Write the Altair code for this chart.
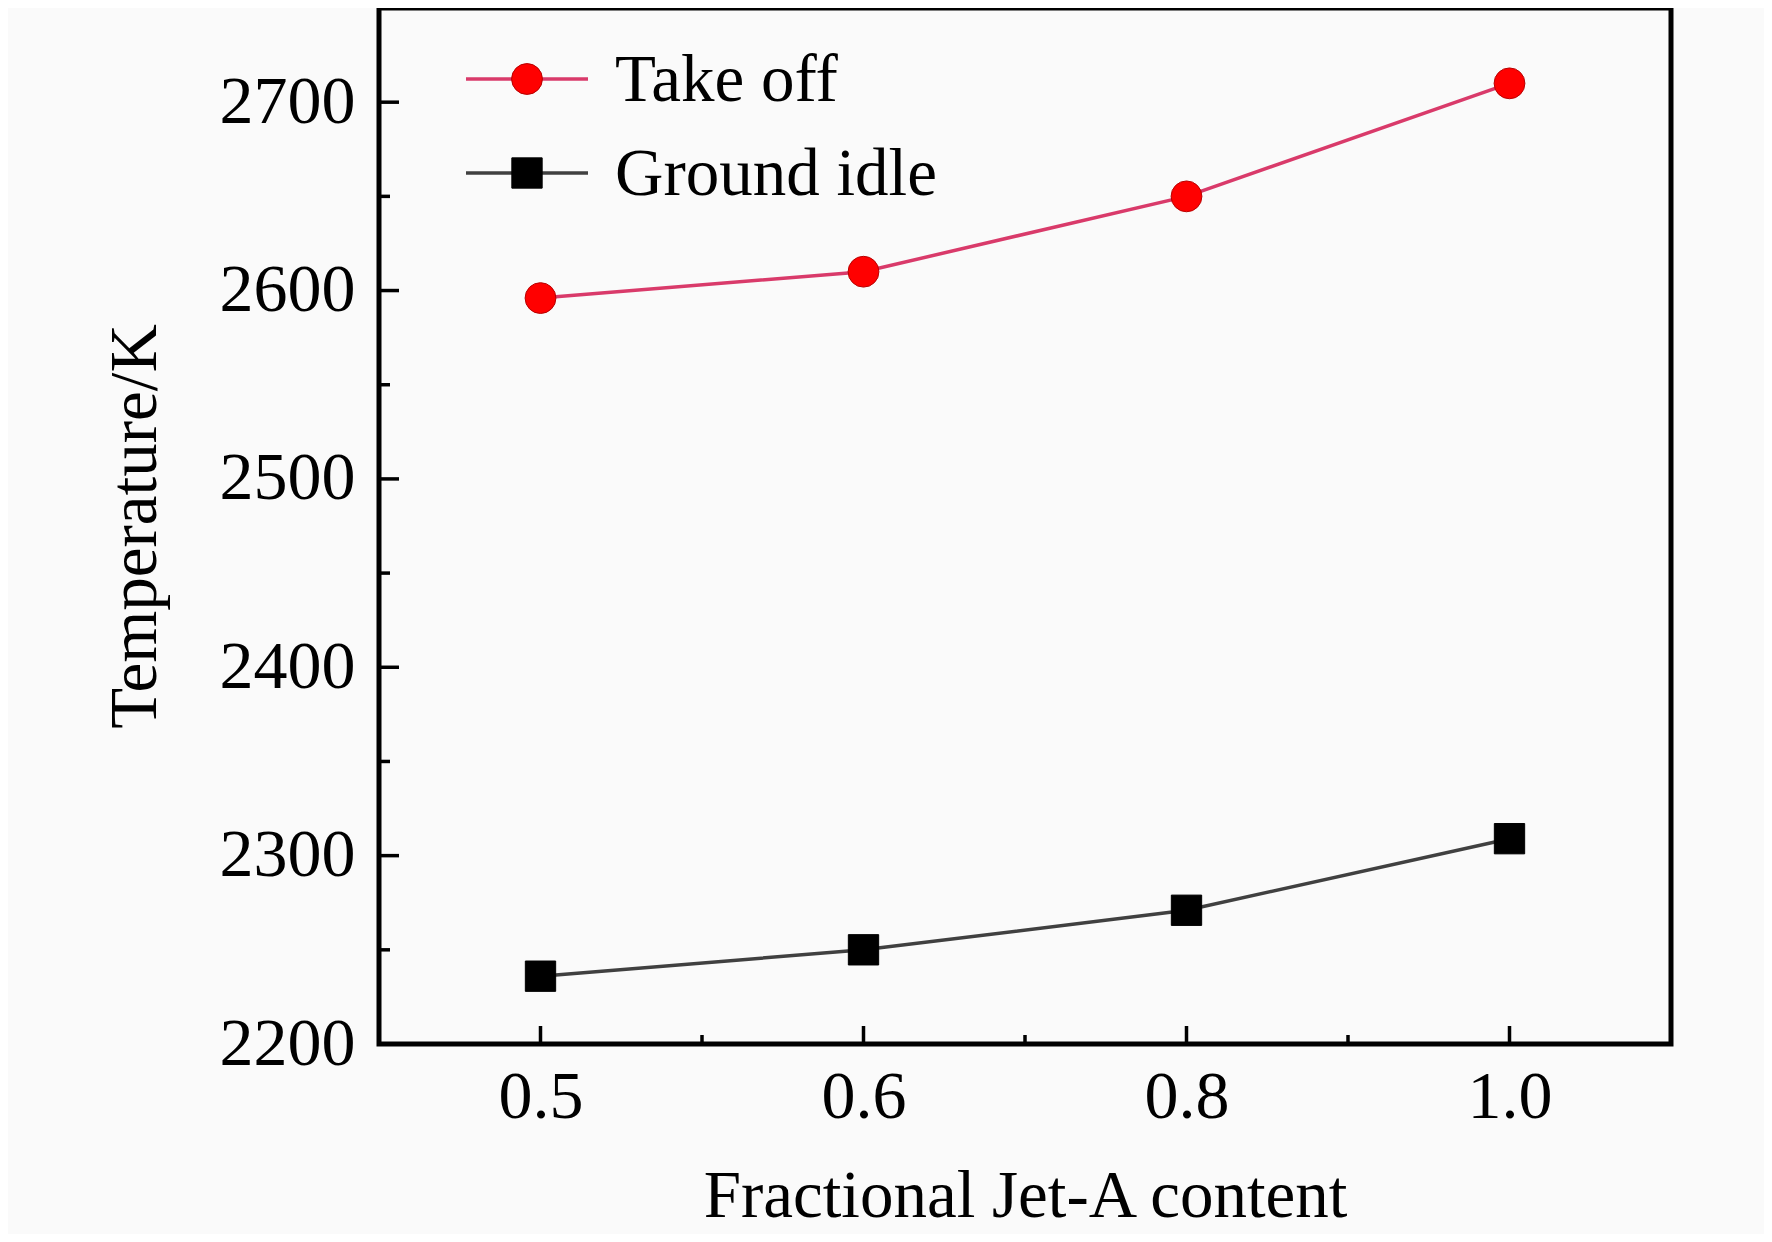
import altair as alt
import pandas as pd

# ---- data ----
x_labels = ["0.5", "0.6", "0.8", "1.0"]
x_index = [0, 1, 2, 3]
takeoff = [2596, 2610, 2650, 2710]
ground_idle = [2236, 2250, 2271, 2309]
series_names = ["Take off", "Ground idle"]

y_major = [2200, 2300, 2400, 2500, 2600, 2700]
y_minor = [2250, 2350, 2450, 2550, 2650]
x_major = [0, 1, 2, 3]
x_minor = [0.5, 1.5, 2.5]

W, H = 1292, 1036
FONT = "Liberation Serif"

df_take = pd.DataFrame({"idx": x_index, "value": takeoff})
df_ground = pd.DataFrame({"idx": x_index, "value": ground_idle})

xscale = alt.Scale(domain=[-0.5, 3.5], nice=False, zero=False)
yscale = alt.Scale(domain=[2200, 2750], nice=False, zero=False)

label_expr = "[" + ",".join("'" + s + "'" for s in x_labels) + "][datum.value]"

xaxis = alt.Axis(
    values=x_major, labelExpr=label_expr, ticks=False, domain=False, grid=False,
    labelFontSize=68, labelPadding=19, labelColor="black", labelFont=FONT,
    labelOverlap=False, labelFlush=False,
    title="Fractional Jet-A content", titleFontSize=67, titleFont=FONT,
    titleFontWeight="normal", titleColor="black", titlePadding=32,
)
yaxis = alt.Axis(
    values=y_major, format="d", ticks=False, domain=False, grid=False,
    labelFontSize=68, labelPadding=24, labelColor="black", labelFont=FONT,
    labelOverlap=False, labelFlush=False,
    title="Temperature/K", titleFontSize=67, titleFont=FONT,
    titleFontWeight="normal", titleColor="black", titlePadding=50,
)

X = alt.X("idx:Q", scale=xscale, axis=xaxis)
Y = alt.Y("value:Q", scale=yscale, axis=yaxis)

take_line = alt.Chart(df_take).mark_line(
    color="#d93a6a", strokeWidth=3.5).encode(x=X, y=Y)
take_pts = alt.Chart(df_take).mark_point(
    shape="circle", filled=True, fill="#ff0000", stroke="#b80000", strokeWidth=1,
    size=950, opacity=1).encode(x=X, y=Y)
ground_line = alt.Chart(df_ground).mark_line(
    color="#404040", strokeWidth=3.5).encode(x=X, y=Y)
ground_pts = alt.Chart(df_ground).mark_point(
    shape="square", filled=True, fill="#000000", stroke="#000000", strokeWidth=1,
    size=920, opacity=1).encode(x=X, y=Y)

# ---- inward ticks ----
ymaj = alt.Chart(pd.DataFrame({"value": y_major})).mark_rule(color="black", strokeWidth=3.5).encode(
    y=Y, x=alt.value(0), x2=alt.value(20))
ymin = alt.Chart(pd.DataFrame({"value": y_minor})).mark_rule(color="black", strokeWidth=3.5).encode(
    y=Y, x=alt.value(0), x2=alt.value(11))
xmaj = alt.Chart(pd.DataFrame({"idx": x_major})).mark_rule(color="black", strokeWidth=3.5).encode(
    x=X, y=alt.value(H), y2=alt.value(H - 18))
xmin = alt.Chart(pd.DataFrame({"idx": x_minor})).mark_rule(color="black", strokeWidth=3.5).encode(
    x=X, y=alt.value(H), y2=alt.value(H - 9))

# ---- legend (inside, top-left) ----
leg_df = pd.DataFrame({"name": series_names})
def legend_item(name, ly, line_color, shape, fill, stroke, size):
    d = leg_df[leg_df["name"] == name]
    base = alt.Chart(d)
    ln = base.mark_rule(color=line_color, strokeWidth=3.5).encode(
        x=alt.value(87), x2=alt.value(209), y=alt.value(ly))
    pt = base.mark_point(shape=shape, filled=True, fill=fill, stroke=stroke,
                         strokeWidth=1, size=size, opacity=1).encode(
        x=alt.value(148), y=alt.value(ly))
    tx = base.mark_text(align="left", baseline="middle", font=FONT, fontSize=67,
                        color="black").encode(
        x=alt.value(236), y=alt.value(ly + 2), text="name:N")
    return ln + pt + tx

leg1 = legend_item("Take off", 71, "#d93a6a", "circle", "#ff0000", "#b80000", 950)
leg2 = legend_item("Ground idle", 165, "#404040", "square", "#000000", "#000000", 920)

chart = alt.layer(
    take_line, ground_line, take_pts, ground_pts,
    ymaj, ymin, xmaj, xmin, leg1, leg2,
).properties(
    width=W, height=H,
    autosize=alt.AutoSizeParams(type="none"),
    padding={"left": 371, "top": 0, "right": 93, "bottom": 190},
    background="#fafafa",
).configure(
    font=FONT,
).configure_view(
    stroke="black", strokeWidth=5, fill="#fafafa",
)

chart.save("out.html", embed_options={"renderer": "svg", "actions": False})
